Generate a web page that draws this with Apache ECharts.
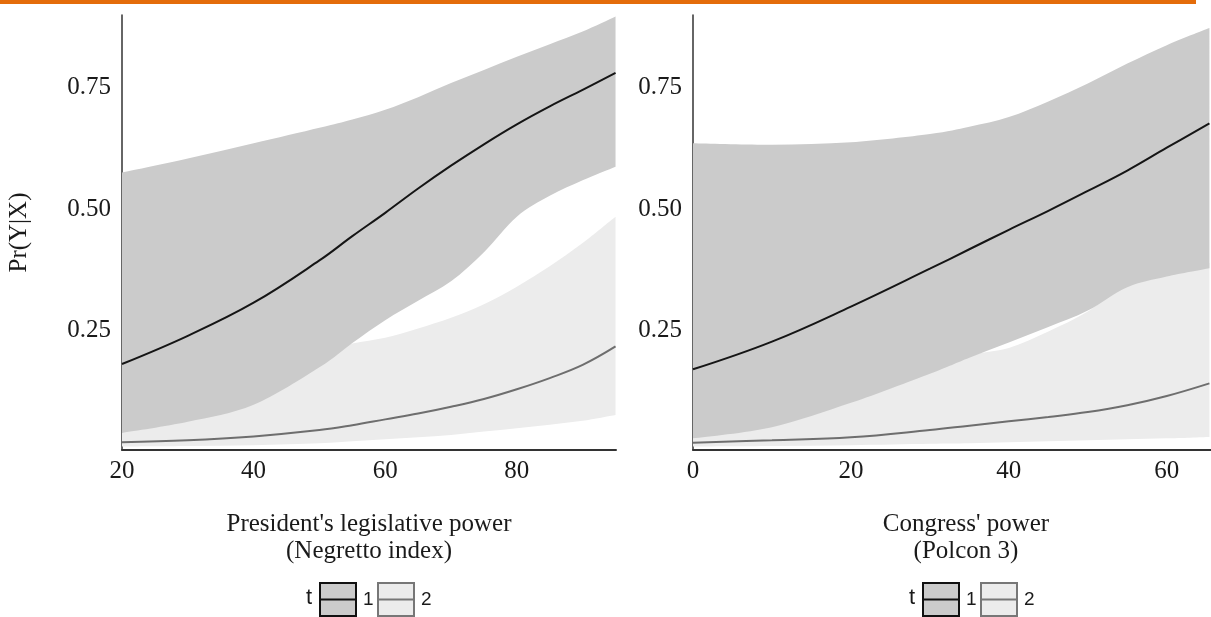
<!DOCTYPE html>
<html><head><meta charset="utf-8">
<script src="https://cdn.jsdelivr.net/npm/echarts@6/dist/echarts.min.js"></script>
<style>html,body{margin:0;padding:0;background:#fff}#c{width:1211px;height:617px}</style>
</head><body><div id="c"></div>
<script>
// ---- Left panel: President's legislative power (Negretto index)
const leftX      = [20, 30, 40, 50, 55, 60, 65, 70, 75, 80, 85, 90, 95];
const leftFit1   = [0.182, 0.240, 0.308, 0.395, 0.445, 0.493, 0.543, 0.590, 0.634, 0.675, 0.712, 0.746, 0.781];
const leftUpper1 = [0.576, 0.605, 0.636, 0.668, 0.685, 0.705, 0.731, 0.760, 0.787, 0.814, 0.840, 0.866, 0.897];
const leftLower1 = [0.040, 0.063, 0.098, 0.175, 0.225, 0.272, 0.312, 0.352, 0.412, 0.485, 0.528, 0.560, 0.588];
const leftFit2   = [0.021, 0.025, 0.033, 0.046, 0.056, 0.068, 0.080, 0.094, 0.110, 0.130, 0.153, 0.180, 0.218];
const leftUpper2 = [0.100, 0.130, 0.165, 0.205, 0.224, 0.236, 0.255, 0.277, 0.305, 0.341, 0.383, 0.431, 0.485];
const leftLower2 = [0.012, 0.013, 0.015, 0.019, 0.023, 0.027, 0.031, 0.036, 0.043, 0.050, 0.057, 0.065, 0.077];
// ---- Right panel: Congress' power (Polcon 3)
const rightX      = [0, 10, 20, 30, 35, 40, 45, 50, 55, 60, 65.4];
const rightFit1   = [0.171, 0.228, 0.300, 0.378, 0.418, 0.458, 0.497, 0.538, 0.580, 0.627, 0.677];
const rightUpper1 = [0.636, 0.633, 0.638, 0.655, 0.670, 0.690, 0.722, 0.759, 0.800, 0.838, 0.873];
const rightLower1 = [0.029, 0.052, 0.102, 0.162, 0.195, 0.226, 0.258, 0.292, 0.340, 0.362, 0.379];
const rightFit2   = [0.020, 0.025, 0.031, 0.046, 0.055, 0.064, 0.073, 0.083, 0.097, 0.116, 0.142];
const rightUpper2 = [0.060, 0.090, 0.125, 0.170, 0.200, 0.215, 0.249, 0.290, 0.347, 0.372, 0.390];
const rightLower2 = [0.012, 0.013, 0.015, 0.018, 0.019, 0.021, 0.023, 0.025, 0.027, 0.029, 0.032];
// ---- tick labels / titles
const leftXTicks  = [20, 40, 60, 80];
const rightXTicks = [0, 20, 40, 60];
const yTicks      = [0.25, 0.50, 0.75];
const leftXTitle  = "President's legislative power\n(Negretto index)";
const rightXTitle = "Congress' power\n(Polcon 3)";
const yTitle      = 'Pr(Y|X)';
const legendTitle = 't';
const legendLabels = ['1', '2'];

const SERIF = 'Liberation Serif';
const SANS = 'Liberation Sans';
const DARK = '#cbcbcb', LIGHT = '#ececec';

function pts(xs, ys) { return xs.map((x, i) => [x, ys[i]]); }
// Catmull-Rom smoothing of already-projected pixel points (rendering only)
function curve(p, move) {
  let d = (move ? 'M' : 'L') + p[0][0].toFixed(2) + ' ' + p[0][1].toFixed(2);
  for (let i = 0; i < p.length - 1; i++) {
    const a = p[i - 1] || p[i], b = p[i], c = p[i + 1], e = p[i + 2] || p[i + 1];
    const c1 = [b[0] + (c[0] - a[0]) / 6, b[1] + (c[1] - a[1]) / 6];
    const c2 = [c[0] - (e[0] - b[0]) / 6, c[1] - (e[1] - b[1]) / 6];
    d += ' C' + c1[0].toFixed(2) + ' ' + c1[1].toFixed(2) + ' ' + c2[0].toFixed(2) + ' ' +
         c2[1].toFixed(2) + ' ' + c[0].toFixed(2) + ' ' + c[1].toFixed(2);
  }
  return d;
}
function ribbon(idx, xs, lo, hi, color) {
  return {type: 'custom', coordinateSystem: 'cartesian2d', xAxisIndex: idx, yAxisIndex: idx,
    clip: true, silent: true,
    data: xs.map((x, i) => [x, lo[i], hi[i]]),
    encode: {x: 0, y: [1, 2]},
    renderItem: function (params, api) {
      if (params.dataIndex !== 0) return null;
      const up = xs.map((x, i) => api.coord([x, hi[i]]));
      const dn = xs.map((x, i) => api.coord([x, lo[i]])).reverse();
      return {type: 'path', shape: {pathData: curve(up, true) + ' ' + curve(dn, false) + ' Z'},
              style: {fill: color, stroke: null}};
    }};
}
function fitLine(idx, xs, ys, color) {
  return {type: 'line', xAxisIndex: idx, yAxisIndex: idx, data: pts(xs, ys), smooth: 0.4,
          symbol: 'none', lineStyle: {width: 2, color: color}, silent: true};
}
function xAxisCfg(idx, min, max, ticks, title, shift) {
  return {gridIndex: idx, type: 'value', min: min, max: max,
    axisLine: {show: true, onZero: false, lineStyle: {color: '#333', width: 2}},
    axisTick: {show: false}, splitLine: {show: false},
    axisLabel: {customValues: ticks, fontFamily: SERIF, fontSize: 25, color: '#1a1a1a', margin: 9},
    name: title, nameLocation: 'middle', nameGap: 61,
    nameTextStyle: {fontFamily: SERIF, fontSize: 25, lineHeight: 27, color: '#1a1a1a',
                    padding: [0, 0, 0, shift]}};
}
function yAxisCfg(idx, title) {
  const c = {gridIndex: idx, type: 'value', min: 0.005, max: 0.9,
    axisLine: {show: true, onZero: false, lineStyle: {color: '#333', width: 1.5}},
    axisTick: {show: false}, splitLine: {show: false},
    axisLabel: {customValues: yTicks, formatter: v => v.toFixed(2), fontFamily: SERIF, fontSize: 25,
                color: '#1a1a1a', margin: 11, padding: [5, 0, 0, 0]}};
  if (title) {
    c.name = title; c.nameLocation = 'middle'; c.nameRotate = 90; c.nameGap = 90;
    c.nameTextStyle = {fontFamily: SERIF, fontSize: 25, color: '#1a1a1a'};
  }
  return c;
}
function legendGraphics(x0) {
  const y0 = 583, w = 36, h = 33;
  const b1 = x0 + 14, b2 = x0 + 72;
  return [
    {type: 'text', left: x0, top: y0 + 4, style: {text: legendTitle, font: '22px ' + SANS, fill: '#1a1a1a'}},
    {type: 'rect', shape: {x: b1, y: y0, width: w, height: h}, style: {fill: DARK, stroke: '#111', lineWidth: 2}},
    {type: 'line', shape: {x1: b1, y1: y0 + h / 2, x2: b1 + w, y2: y0 + h / 2}, style: {stroke: '#111', lineWidth: 2}},
    {type: 'text', left: x0 + 57, top: y0 + 7, style: {text: legendLabels[0], font: '19px ' + SANS, fill: '#1a1a1a'}},
    {type: 'rect', shape: {x: b2, y: y0, width: w, height: h}, style: {fill: LIGHT, stroke: '#777', lineWidth: 2}},
    {type: 'line', shape: {x1: b2, y1: y0 + h / 2, x2: b2 + w, y2: y0 + h / 2}, style: {stroke: '#777', lineWidth: 2}},
    {type: 'text', left: x0 + 115, top: y0 + 7, style: {text: legendLabels[1], font: '19px ' + SANS, fill: '#1a1a1a'}}
  ];
}

const chart = echarts.init(document.getElementById('c'), null, {renderer: 'canvas'});
chart.setOption({
  animation: false,
  backgroundColor: '#fff',
  grid: [
    {left: 122, right: 595, top: 15, bottom: 167},
    {left: 693, right: 0, top: 15, bottom: 167}
  ],
  xAxis: [xAxisCfg(0, 20, 95.07, leftXTicks, leftXTitle, 0), xAxisCfg(1, 0, 65.6, rightXTicks, rightXTitle, 28)],
  yAxis: [yAxisCfg(0, yTitle), yAxisCfg(1, null)],
  series: [
    ribbon(0, leftX, leftLower2, leftUpper2, LIGHT),
    ribbon(0, leftX, leftLower1, leftUpper1, DARK),
    fitLine(0, leftX, leftFit2, '#6e6e6e'),
    fitLine(0, leftX, leftFit1, '#151515'),
    ribbon(1, rightX, rightLower2, rightUpper2, LIGHT),
    ribbon(1, rightX, rightLower1, rightUpper1, DARK),
    fitLine(1, rightX, rightFit2, '#6e6e6e'),
    fitLine(1, rightX, rightFit1, '#151515')
  ],
  graphic: [
    {type: 'rect', shape: {x: 0, y: 0, width: 1196, height: 4}, style: {fill: '#e46c0a'}},
    ...legendGraphics(306),
    ...legendGraphics(909)
  ]
});
</script></body></html>
